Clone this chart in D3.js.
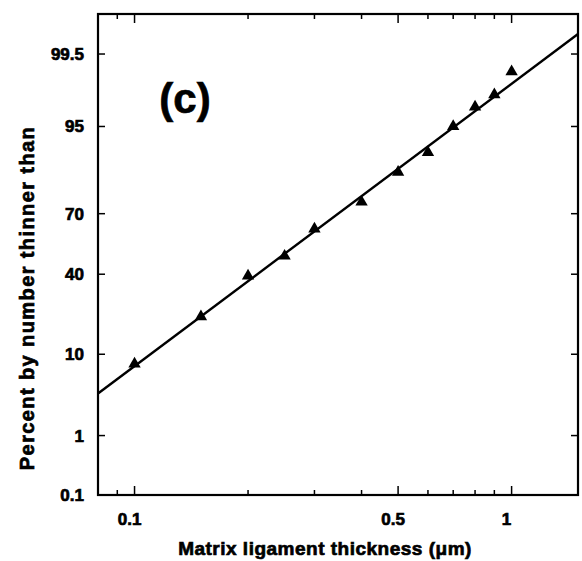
<!DOCTYPE html>
<html>
<head>
<meta charset="utf-8">
<script src="https://cdn.jsdelivr.net/npm/d3@7"></script>
<style>
  body { margin: 0; background: #fff; }
  text { font-family: "Liberation Sans", Arial, sans-serif; font-weight: bold; fill: #000; }
  .heavy { stroke: #000; stroke-width: 0.7px; }
</style>
</head>
<body>
<svg id="chart" width="582" height="561"></svg>
<script>
// measured points: thickness (um) vs cumulative percent
let thickness = [0.1, 0.15, 0.2, 0.25, 0.3, 0.4, 0.5, 0.6, 0.7, 0.8, 0.9, 1.0];
let percent = [8.0, 21.2, 39.2, 49.2, 62.9, 75.0, 85.5, 90.5, 95.0, 97.1, 98.0, 99.06];

// fitted lognormal line, end points
let fitX = [0.08, 1.5];
let fitPct = [3.7, 99.77];

let xTickVals = [0.1, 0.5, 1];
let xMinorVals = [0.09, 0.2, 0.3, 0.4, 0.6, 0.7, 0.8, 0.9];
let yTickVals = [0.1, 1, 10, 40, 70, 95, 99.5];

// inverse normal CDF (Acklam)
function probit(p) {
  let a = [-39.69683028665376, 220.9460984245205, -275.9285104469687, 138.3577518672690, -30.66479806614716, 2.506628277459239];
  let b = [-54.47609879822406, 161.5858368580409, -155.6989798598866, 66.80131188771972, -13.28068155288572];
  let c = [-0.007784894002430293, -0.3223964580411365, -2.400758277161838, -2.549732539343734, 4.374664141464968, 2.938163982698783];
  let d = [0.007784695709041462, 0.3224671290700398, 2.445134137142996, 3.754408661907416];
  let pl = 0.02425, q, r;
  if (p < pl) {
    q = Math.sqrt(-2 * Math.log(p));
    return (((((c[0]*q+c[1])*q+c[2])*q+c[3])*q+c[4])*q+c[5]) / ((((d[0]*q+d[1])*q+d[2])*q+d[3])*q+1);
  } else if (p <= 1 - pl) {
    q = p - 0.5; r = q * q;
    return (((((a[0]*r+a[1])*r+a[2])*r+a[3])*r+a[4])*r+a[5])*q / (((((b[0]*r+b[1])*r+b[2])*r+b[3])*r+b[4])*r+1);
  } else {
    q = Math.sqrt(-2 * Math.log(1 - p));
    return -(((((c[0]*q+c[1])*q+c[2])*q+c[3])*q+c[4])*q+c[5]) / ((((d[0]*q+d[1])*q+d[2])*q+d[3])*q+1);
  }
}

let plotL = 98, plotR = 578, plotT = 14, plotB = 495;
let svg = d3.select("#chart");

let xScale = d3.scaleLog().domain([0.08, 1.5]).range([plotL, plotR]);
let zScale = d3.scaleLinear().domain([-3.09, 3.09]).range([plotB, plotT]);
let yPos = p => zScale(probit(p / 100));

// fitted line
let lineGen = d3.line()
  .x(d => xScale(d[0]))
  .y(d => yPos(d[1]));
svg.append("path")
  .attr("d", lineGen(fitX.map((v, i) => [v, fitPct[i]])))
  .attr("fill", "none")
  .attr("stroke", "#000")
  .attr("stroke-width", 2.4);

// triangles
svg.selectAll(".pt")
  .data(thickness)
  .enter()
  .append("path")
  .attr("class", "pt")
  .attr("d", d3.symbol().type(d3.symbolTriangle).size(66))
  .attr("transform", (d, i) => "translate(" + xScale(d) + "," + yPos(percent[i]) + ")")
  .attr("fill", "#000");

// ticks
let g = svg.append("g").attr("stroke", "#000").attr("stroke-width", 1.5);
xTickVals.forEach(v => {
  g.append("line").attr("x1", xScale(v)).attr("x2", xScale(v)).attr("y1", plotB).attr("y2", plotB - 9);
  g.append("line").attr("x1", xScale(v)).attr("x2", xScale(v)).attr("y1", plotT).attr("y2", plotT + 9);
});
xMinorVals.forEach(v => {
  g.append("line").attr("x1", xScale(v)).attr("x2", xScale(v)).attr("y1", plotB).attr("y2", plotB - 5);
  g.append("line").attr("x1", xScale(v)).attr("x2", xScale(v)).attr("y1", plotT).attr("y2", plotT + 5);
});
yTickVals.forEach(v => {
  g.append("line").attr("x1", plotL).attr("x2", plotL + 7).attr("y1", yPos(v)).attr("y2", yPos(v));
  g.append("line").attr("x1", plotR).attr("x2", plotR - 7).attr("y1", yPos(v)).attr("y2", yPos(v));
});

// frame
svg.append("rect")
  .attr("x", plotL).attr("y", plotT)
  .attr("width", plotR - plotL).attr("height", plotB - plotT)
  .attr("fill", "none").attr("stroke", "#000").attr("stroke-width", 2.2);

// tick labels
svg.selectAll(".xl")
  .data(xTickVals)
  .enter()
  .append("text")
  .attr("class", "heavy")
  .attr("x", d => xScale(d) - 5)
  .attr("y", 525)
  .attr("text-anchor", "middle")
  .style("font-size", "17px")
  .text(d => d);

svg.selectAll(".yl")
  .data(yTickVals)
  .enter()
  .append("text")
  .attr("class", "heavy")
  .attr("x", 84)
  .attr("y", d => yPos(d) + 6)
  .attr("text-anchor", "end")
  .style("font-size", "17px")
  .text(d => d);

// axis titles
svg.append("text")
  .attr("class", "heavy")
  .attr("x", 325)
  .attr("y", 555)
  .attr("text-anchor", "middle")
  .style("font-size", "19px")
  .style("letter-spacing", "0.5px")
  .text("Matrix ligament thickness  (\u03bcm)");

svg.append("text")
  .attr("class", "heavy")
  .attr("transform", "translate(34,298) rotate(-90)")
  .attr("text-anchor", "middle")
  .style("font-size", "20px")
  .style("letter-spacing", "1.4px")
  .text("Percent by number thinner than");

// panel label
svg.append("text")
  .attr("class", "heavy")
  .attr("x", 185)
  .attr("y", 113)
  .attr("text-anchor", "middle")
  .style("font-size", "42px")
  .text("(c)");
</script>
</body>
</html>
